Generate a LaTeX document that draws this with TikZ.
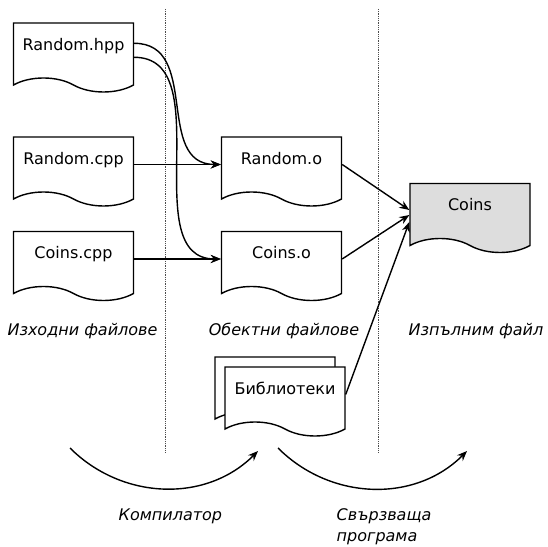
\documentclass[tikz,border=0pt]{standalone}
\usepackage{fontspec}
\setmainfont{DejaVu Sans}
\usetikzlibrary{shapes.symbols,arrows.meta}

\definecolor{exefill}{HTML}{DDDDDD}
\newcommand{\docsize}{\fontsize{16}{21}\selectfont}

\begin{document}
\begin{tikzpicture}[x=1pt,y=1pt,line width=1.4pt,
    doc/.style={tape,draw,fill=white,tape bend top=none,tape bend bottom=out and in,
      tape bend height=14pt,minimum width=120pt,minimum height=69pt,inner sep=0pt,
      text height=12pt,text depth=12pt,font=\docsize},
    stage/.style={font=\docsize\itshape,inner sep=0pt},
    flow/.style={-{Stealth[length=10pt,width=8pt]}}]

  \useasboundingbox (0,0) rectangle (548,546);

  % separators
  \begin{scope}[densely dotted,line width=.8pt,gray!60!black]
    \coordinate (s1a) at (165,537);
    \coordinate (s1b) at (165,93);
    \coordinate (s2a) at (378,537);
    \coordinate (s2b) at (378,93);
    \draw (s1a) -- (s1b);
    \draw (s2a) -- (s2b);
  \end{scope}

  % files
  \begin{scope}[every node/.style={doc}]
    \node (rhpp) at (73.5,495.5) {Random.hpp};
    \node (rcpp) at (73.5,381.5) {Random.cpp};
    \node (ccpp) at (73.5,287)   {Coins.cpp};
    \node (ro)   at (281.5,381.5) {Random.o};
    \node (co)   at (281.5,287)   {Coins.o};
    \node (libb) at (275,161.5) {};
    \node (lib)  at (285,151.5) {Библиотеки};
    \node[fill=exefill] (exe) at (470,335) {Coins};
  \end{scope}

  % links
  \draw[flow] ([yshift=-21pt]rhpp.north east) to[out=0,in=180,looseness=1.15] (ro.west);
  \draw[flow] ([yshift=-35pt]rhpp.north east) to[out=0,in=180] (co.west);
  \draw[flow] (rcpp.east) -- (ro.west);
  \draw[flow] (ccpp.east) -- (co.west);
  \draw[flow] (ro.east) -- ([yshift=1pt]exe.west);
  \draw[flow] (co.east) -- ([yshift=-4pt]exe.west);
  \draw[flow] (lib.east) -- ([yshift=-11pt]exe.west);

  % stages
  \node[stage,anchor=base] (src) at (82.5,210) {Изходни файлове};
  \node[stage,anchor=base] (obj) at (284,210) {Обектни файлове};
  \node[stage,anchor=base] (bin) at (476,210) {Изпълним файл};

  \coordinate (c1a) at (70,98);
  \coordinate (c1b) at (258,95);
  \coordinate (c2a) at (278,98);
  \coordinate (c2b) at (467,95);
  \draw[flow] (c1a) to[out=-45,in=-135] (c1b);
  \draw[flow] (c2a) to[out=-45,in=-135] (c2b);

  \node[stage,anchor=base west] (comp) at (118,26) {Компилатор};
  \node[stage,anchor=north west,align=left] (link) at (336,38) {Свързваща\\програма};

\end{tikzpicture}
\end{document}
